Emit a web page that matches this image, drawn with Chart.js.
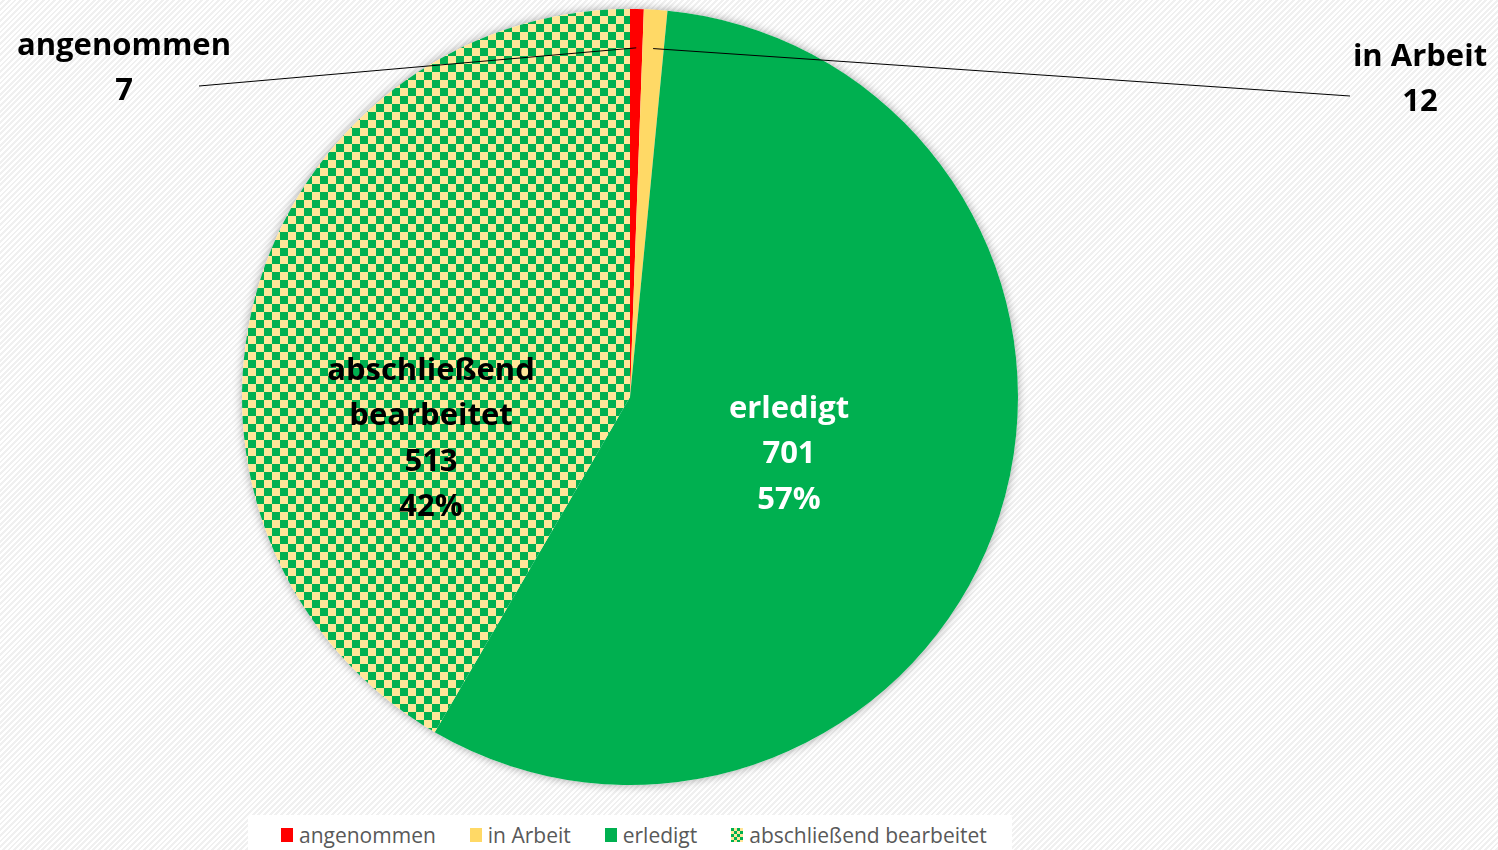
<!DOCTYPE html>
<html>
<head>
<meta charset="utf-8">
<script src="https://cdn.jsdelivr.net/npm/chart.js@4/dist/chart.umd.min.js"></script>
<style>
  html, body { margin: 0; padding: 0; }
  body {
    width: 1498px; height: 850px; overflow: hidden; position: relative;
    background: repeating-linear-gradient(135deg, #ffffff 0px, #ffffff 2px, #f0f0f0 2px, #f0f0f0 4px);
  }
  #wrap { position: absolute; left: 0; top: 0; width: 1498px; height: 850px; }
  #legend {
    position: absolute; left: 248px; top: 815px; width: 764px; height: 40px;
    background: #ffffff; font-family: "Open Sans", sans-serif; font-size: 21px; color: #595959;
    display: flex; align-items: center; padding-left: 33px; box-sizing: border-box;
  }
  #legend span.item { display: flex; align-items: center; margin-right: 34px; white-space: nowrap; }
  #legend span.box { display: inline-block; width: 12px; height: 14px; margin-right: 6px; }
</style>
</head>
<body>
<div id="wrap"><canvas id="pie" width="1498" height="850"></canvas></div>
<div id="legend"></div>
<script>
// data
var categories = ['angenommen', 'in Arbeit', 'erledigt', 'abschließend bearbeitet'];
var values = [7, 12, 701, 513];
var colors = ['#FF0000', '#FFD966', '#00B050', 'checker'];

// checker pattern for the last slice
function makeChecker(size) {
    var c = document.createElement('canvas');
    c.width = size * 2; c.height = size * 2;
    var g = c.getContext('2d');
    g.fillStyle = '#FFE699';
    g.fillRect(0, 0, size * 2, size * 2);
    g.fillStyle = '#00B050';
    g.fillRect(0, 0, size, size);
    g.fillRect(size, size, size, size);
    return c;
}
var checkerCanvas = makeChecker(8);
var ctx = document.getElementById('pie').getContext('2d');
var checker = ctx.createPattern(checkerCanvas, 'repeat');
var fills = colors.map(function (c) { return c === 'checker' ? checker : c; });

var total = values.reduce(function (a, b) { return a + b; }, 0);

// outside labels (small slices) and inside labels (big slices)
var labelCfg = [
    { outside: true, x: 124, y: 46, lineFrom: [199, 86] },
    { outside: true, x: 1420, y: 57, lineFrom: [1350, 96] },
    { outside: false, x: 789, y: 409, color: '#ffffff' },
    { outside: false, x: 431, y: 371, color: '#000000', split: ['abschließend', 'bearbeitet'] }
];

var shadowPlugin = {
    id: 'pieShadow',
    beforeDatasetsDraw: function (chart) {
        var arc = chart.getDatasetMeta(0).data[0];
        var c = chart.ctx;
        c.save();
        c.shadowColor = 'rgba(0,0,0,0.35)';
        c.shadowBlur = 10;
        c.fillStyle = '#ffffff';
        c.beginPath();
        c.arc(arc.x, arc.y, arc.outerRadius, 0, Math.PI * 2);
        c.fill();
        c.restore();
    }
};

var labelPlugin = {
    id: 'pieLabels',
    afterDatasetsDraw: function (chart) {
        var c = chart.ctx;
        var meta = chart.getDatasetMeta(0);
        meta.data.forEach(function (arc, i) {
            var cfg = labelCfg[i];
            c.save();
            c.font = 'bold 31px "Open Sans", sans-serif';
            c.textAlign = 'center';
            c.textBaseline = 'middle';
            if (cfg.outside) {
                var mid = (arc.startAngle + arc.endAngle) / 2;
                var r = arc.outerRadius * 0.9;
                c.strokeStyle = '#000000';
                c.lineWidth = 1;
                c.beginPath();
                c.moveTo(cfg.lineFrom[0], cfg.lineFrom[1]);
                c.lineTo(arc.x + Math.cos(mid) * r, arc.y + Math.sin(mid) * r);
                c.stroke();
                c.fillStyle = '#000000';
                c.fillText(categories[i], cfg.x, cfg.y);
                c.fillText(String(values[i]), cfg.x, cfg.y + 45);
            } else {
                var lines = (cfg.split || [categories[i]]).slice();
                lines.push(String(values[i]));
                lines.push(Math.round(values[i] / total * 100) + '%');
                c.fillStyle = cfg.color;
                lines.forEach(function (t, k) {
                    c.fillText(t, cfg.x, cfg.y + k * 45.5);
                });
            }
            c.restore();
        });
    }
};

new Chart(ctx, {
    type: 'pie',
    data: {
        labels: categories,
        datasets: [{
            data: values,
            backgroundColor: fills,
            borderWidth: 0
        }]
    },
    options: {
        responsive: false,
        animation: false,
        rotation: 0,
        layout: { padding: { left: 242, right: 480, top: 9, bottom: 65 } },
        plugins: {
            legend: { display: false },
            tooltip: { enabled: false }
        }
    },
    plugins: [shadowPlugin, labelPlugin]
});

// legend
var legend = document.getElementById('legend');
categories.forEach(function (name, i) {
    var item = document.createElement('span');
    item.className = 'item';
    var box = document.createElement('span');
    box.className = 'box';
    if (colors[i] === 'checker') {
        box.style.background = 'url(' + makeChecker(3).toDataURL() + ')';
    } else {
        box.style.background = colors[i];
    }
    item.appendChild(box);
    item.appendChild(document.createTextNode(name));
    legend.appendChild(item);
});
</script>
</body>
</html>
